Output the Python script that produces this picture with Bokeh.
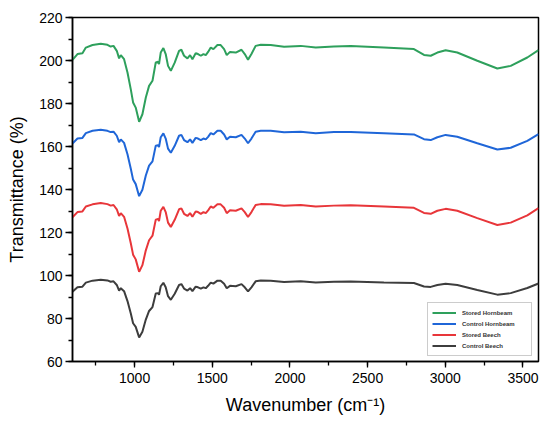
from bokeh.plotting import figure
from bokeh.models import Range1d, SingleIntervalTicker, Legend, LegendItem
from bokeh.embed import file_html
from bokeh.resources import INLINE

wavenumber = [600, 632, 664, 686, 729, 782, 825, 846, 864, 885, 900, 911, 932, 954, 975, 990, 1007,
              1029, 1050, 1072, 1093, 1115, 1136, 1151, 1157, 1168, 1185, 1200, 1215, 1233, 1258,
              1286, 1301, 1318, 1340, 1357, 1372, 1393, 1408, 1426, 1443, 1458, 1473, 1490, 1507,
              1533, 1554, 1576, 1593, 1614, 1651, 1688, 1709, 1730, 1752, 1779, 1812, 1876, 1962,
              2069, 2166, 2283, 2391, 2605, 2798, 2863, 2906, 2949, 3002, 3077, 3206, 3335, 3421,
              3528, 3600]

stored_hornbeam = [200.3, 203.0, 203.4, 206.0, 207.2, 207.8, 207.3, 206.5, 206.8, 204.5, 201.0, 202.5,
                   200.6, 194.4, 186.7, 180.5, 178.1, 171.5, 175.0, 182.8, 188.2, 190.6, 199.1, 199.4,
                   198.3, 203.7, 205.8, 203.0, 197.5, 195.2, 199.0, 204.5, 205.0, 202.2, 201.0, 202.5,
                   200.6, 203.4, 203.0, 202.2, 203.0, 202.5, 204.0, 206.0, 205.3, 207.2, 207.2, 205.3,
                   202.5, 204.0, 203.7, 205.0, 203.0, 200.4, 203.0, 206.8, 207.3, 207.2, 206.4, 206.8,
                   206.0, 206.5, 206.7, 206.0, 205.3, 202.6, 202.2, 203.7, 204.8, 203.7, 199.9, 196.3,
                   197.5, 201.4, 204.8]

control_hornbeam = [161.4, 163.7, 164.0, 166.2, 167.3, 167.8, 167.3, 166.7, 166.9, 165.0, 162.0, 163.3,
                    161.7, 156.4, 149.8, 144.6, 142.5, 136.9, 139.9, 146.5, 151.1, 153.1, 160.4, 160.6,
                    159.7, 164.3, 166.1, 163.7, 159.0, 157.1, 160.3, 165.0, 165.4, 163.0, 162.0, 163.3,
                    161.7, 164.0, 163.7, 163.0, 163.7, 163.3, 164.5, 166.2, 165.6, 167.3, 167.3, 165.6,
                    163.3, 164.5, 164.3, 165.4, 163.7, 161.5, 163.7, 166.9, 167.3, 167.3, 166.6, 166.9,
                    166.2, 166.7, 166.8, 166.2, 165.6, 163.4, 163.0, 164.3, 165.4, 164.5, 161.5, 158.6,
                    159.4, 162.6, 165.8]

stored_beech = [127.1, 129.5, 129.8, 132.1, 133.1, 133.7, 133.2, 132.5, 132.8, 130.8, 127.7, 129.0,
                127.3, 121.9, 115.1, 109.7, 107.5, 101.7, 104.8, 111.7, 116.4, 118.5, 126.0, 126.3,
                125.3, 130.1, 131.9, 129.5, 124.6, 122.6, 125.9, 130.8, 131.2, 128.7, 127.7, 129.0,
                127.3, 129.8, 129.5, 128.7, 129.5, 129.0, 130.3, 132.1, 131.5, 133.1, 133.1, 131.5,
                129.0, 130.3, 130.1, 131.2, 129.5, 127.2, 129.5, 132.8, 133.2, 133.1, 132.4, 132.8,
                132.1, 132.5, 132.7, 132.1, 131.5, 129.1, 128.7, 130.1, 131.0, 130.1, 126.7, 123.5,
                124.6, 128.0, 131.3]

control_beech = [92.5, 94.5, 94.8, 96.7, 97.6, 98.0, 97.7, 97.1, 97.3, 95.6, 93.0, 94.1,
                 92.7, 88.1, 82.4, 77.8, 76.1, 71.2, 73.8, 79.5, 83.5, 85.3, 91.6, 91.8,
                 91.0, 95.0, 96.6, 94.5, 90.4, 88.7, 91.5, 95.6, 96.0, 93.9, 93.0, 94.1,
                 92.7, 94.8, 94.5, 93.9, 94.5, 94.1, 95.2, 96.7, 96.2, 97.6, 97.6, 96.2,
                 94.1, 95.2, 95.0, 96.0, 94.5, 92.6, 94.5, 97.3, 97.7, 97.6, 97.0, 97.3,
                 96.7, 97.1, 97.2, 96.7, 96.5, 94.9, 94.7, 95.6, 96.2, 95.6, 93.3, 91.1,
                 91.8, 94.2, 96.3]

series_names = ["Stored Hornbeam", "Control Hornbeam", "Stored Beech", "Control Beech"]
series_values = [stored_hornbeam, control_hornbeam, stored_beech, control_beech]
series_colors = ["#2ea05c", "#1f66d8", "#e8363a", "#3d3d3d"]

FONT = "Liberation Sans"

p = figure(width=542, height=417, output_backend="svg", toolbar_location=None,
           x_range=Range1d(600, 3600), y_range=Range1d(60, 220),
           min_border_left=72, min_border_right=4, min_border_top=17, min_border_bottom=56)

p.xgrid.visible = False
p.ygrid.visible = False
p.outline_line_color = "black"
p.outline_line_width = 1.5
p.outline_line_alpha = 1.0

items = []
for name, vals, col in zip(series_names, series_values, series_colors):
    r = p.line(wavenumber, vals, line_color=col, line_width=2)
    items.append(LegendItem(label=name, renderers=[r]))

p.xaxis.ticker = SingleIntervalTicker(interval=500, num_minor_ticks=2)
p.yaxis.ticker = SingleIntervalTicker(interval=20, num_minor_ticks=2)

for ax in (p.xaxis[0], p.yaxis[0]):
    ax.axis_line_color = "black"
    ax.axis_line_width = 1.5
    ax.major_tick_line_color = "black"
    ax.minor_tick_line_color = "black"
    ax.major_tick_line_width = 1.3
    ax.minor_tick_line_width = 1.3
    ax.major_tick_in = 0
    ax.minor_tick_in = 0
    ax.major_label_text_font = FONT
    ax.major_label_text_font_size = "14px"
    ax.major_label_text_color = "black"
    ax.axis_label_text_font = FONT
    ax.axis_label_text_font_size = "18px"
    ax.axis_label_text_font_style = "normal"
    ax.axis_label_text_color = "black"

p.xaxis.major_tick_out = 6
p.xaxis.minor_tick_out = 4
p.xaxis.major_label_standoff = 5
p.xaxis.axis_label_standoff = 9
p.xaxis.axis_label = "Wavenumber (cm\u207b\u00b9)"

p.yaxis.major_tick_out = 7
p.yaxis.minor_tick_out = 4
p.yaxis.major_label_standoff = 3
p.yaxis.axis_label_standoff = 9
p.yaxis.axis_label = "Transmittance (%)"

legend = Legend(items=items, location=(355, 5),
                label_text_font=FONT, label_text_font_size="6px", label_text_font_style="bold",
                label_text_color="#333333",
                glyph_width=24, glyph_height=11, label_height=11, label_width=65,
                label_standoff=6, spacing=0, padding=4, margin=0,
                border_line_color="#999999", border_line_width=1,
                background_fill_color="white", background_fill_alpha=1.0)
p.add_layout(legend, "center")

open("out.html", "w").write(file_html(p, INLINE))
